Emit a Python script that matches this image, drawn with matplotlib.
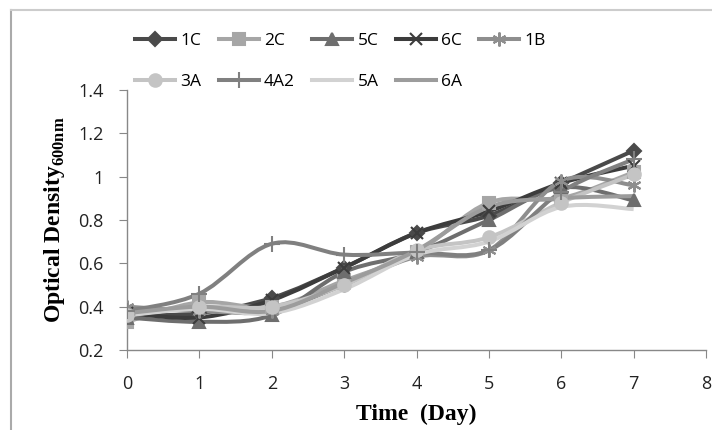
import numpy as np
import matplotlib.pyplot as plt
from matplotlib.path import Path
from matplotlib.patches import PathPatch
from matplotlib.lines import Line2D

# datos
days = [0, 1, 2, 3, 4, 5, 6, 7]
od_1C = [0.36, 0.37, 0.44, 0.58, 0.74, 0.82, 0.97, 1.12]
od_2C = [0.33, 0.42, 0.40, 0.52, 0.65, 0.88, 0.90, 1.02]
od_5C = [0.35, 0.33, 0.36, 0.56, 0.65, 0.80, 0.95, 0.89]
od_6C = [0.37, 0.35, 0.43, 0.58, 0.74, 0.84, 0.97, 1.05]
od_1B = [0.40, 0.38, 0.38, 0.50, 0.63, 0.66, 0.98, 0.96]
od_3A = [0.36, 0.40, 0.40, 0.50, 0.66, 0.72, 0.88, 1.01]
od_4A2 = [0.38, 0.46, 0.69, 0.64, 0.65, 0.66, 0.93, 1.08]
od_5A = [0.36, 0.39, 0.37, 0.48, 0.64, 0.70, 0.86, 0.85]
od_6A = [0.37, 0.40, 0.38, 0.51, 0.66, 0.86, 0.90, 0.91]

labels = ['1C', '2C', '5C', '6C', '1B', '3A', '4A2', '5A', '6A']
series = [od_1C, od_2C, od_5C, od_6C, od_1B, od_3A, od_4A2, od_5A, od_6A]
colors = ['#4a4a4a', '#a6a6a6', '#6e6e6e', '#3c3c3c', '#8e8e8e',
          '#c4c4c4', '#808080', '#d2d2d2', '#9c9c9c']
markers = ['D', 's', '^', 'x', (6, 2, 0), 'o', '+', None, None]
msizes = [7, 8, 8, 9, 10, 9, 12, 0, 0]

plt.rcParams['mathtext.fontset'] = 'custom'
plt.rcParams['mathtext.bf'] = 'Liberation Serif:bold'
plt.rcParams['mathtext.rm'] = 'Liberation Serif'


def smooth_path(x, y):
    # curva suavizada tipo Excel (Bezier cubica por tramos)
    pts = np.column_stack([x, y]).astype(float)
    n = len(pts)
    verts = [pts[0]]
    codes = [Path.MOVETO]
    for i in range(n - 1):
        p0 = pts[i - 1] if i > 0 else pts[i]
        p1 = pts[i]
        p2 = pts[i + 1]
        p3 = pts[i + 2] if i + 2 < n else pts[i + 1]
        c1 = p1 + (p2 - p0) / 6.0
        c2 = p2 - (p3 - p1) / 6.0
        verts += [c1, c2, p2]
        codes += [Path.CURVE4] * 3
    return Path(verts, codes)


fig = plt.figure(figsize=(7.12, 4.3), dpi=100)
ax = fig.add_axes([0.1784, 0.186, 0.8132, 0.605])

handles = []
for lab, vals, col, mk, ms in zip(labels, series, colors, markers, msizes):
    patch = PathPatch(smooth_path(days, vals), facecolor='none', edgecolor=col,
                      lw=2.9, zorder=2)
    ax.add_patch(patch)
    if mk is not None:
        ax.plot(days, vals, linestyle='none', marker=mk, markersize=ms,
                color=col, markeredgecolor=col, markeredgewidth=1.5, zorder=3)
    handles.append(Line2D([0], [0], color=col, lw=2.9, marker=mk, markersize=ms,
                          markeredgecolor=col, markeredgewidth=1.5))

ax.set_xlim(0, 8)
ax.set_ylim(0.2, 1.4)
ax.set_xticks(range(0, 9))
ax.set_yticks([0.2, 0.4, 0.6, 0.8, 1.0, 1.2, 1.4])
ax.set_yticklabels(['0.2', '0.4', '0.6', '0.8', '1', '1.2', '1.4'])
for s in ['top', 'right']:
    ax.spines[s].set_visible(False)
for s in ['left', 'bottom']:
    ax.spines[s].set_color('#888888')
    ax.spines[s].set_linewidth(1.0)
ax.tick_params(axis='both', direction='out', length=6, color='#888888',
               labelsize=13, labelcolor='#222222')
ax.tick_params(axis='y', pad=11)
ax.tick_params(axis='x', pad=12)
for t in ax.get_xticklabels() + ax.get_yticklabels():
    t.set_family('Open Sans')

ax.set_xlabel('Time  (Day)', family='Liberation Serif', fontweight='bold',
              fontsize=17, labelpad=8)
ax.set_ylabel(r'Optical Density$_{\mathbf{600nm}}$', family='Liberation Serif',
              fontweight='bold', fontsize=17, labelpad=8)

# orden para que la leyenda se llene por filas
order = [0, 5, 1, 6, 2, 7, 3, 8, 4]
leg = fig.legend([handles[i] for i in order], [labels[i] for i in order],
                 loc='upper left', bbox_to_anchor=(0.168, 0.96),
                 ncol=5, frameon=False, handlelength=2.3, columnspacing=1.0,
                 handletextpad=0.3, labelspacing=1.45,
                 prop={'family': 'Open Sans', 'size': 12.5})

# marco del grafico (solo izquierda y arriba visibles)
fig.add_artist(Line2D([0.0155, 0.0155], [0.0, 0.977], color='#aaaaaa', lw=1.5,
                      transform=fig.transFigure))
fig.add_artist(Line2D([0.0155, 1.0], [0.977, 0.977], color='#cccccc', lw=1.5,
                      transform=fig.transFigure))

fig.savefig('out.png', dpi=100)
